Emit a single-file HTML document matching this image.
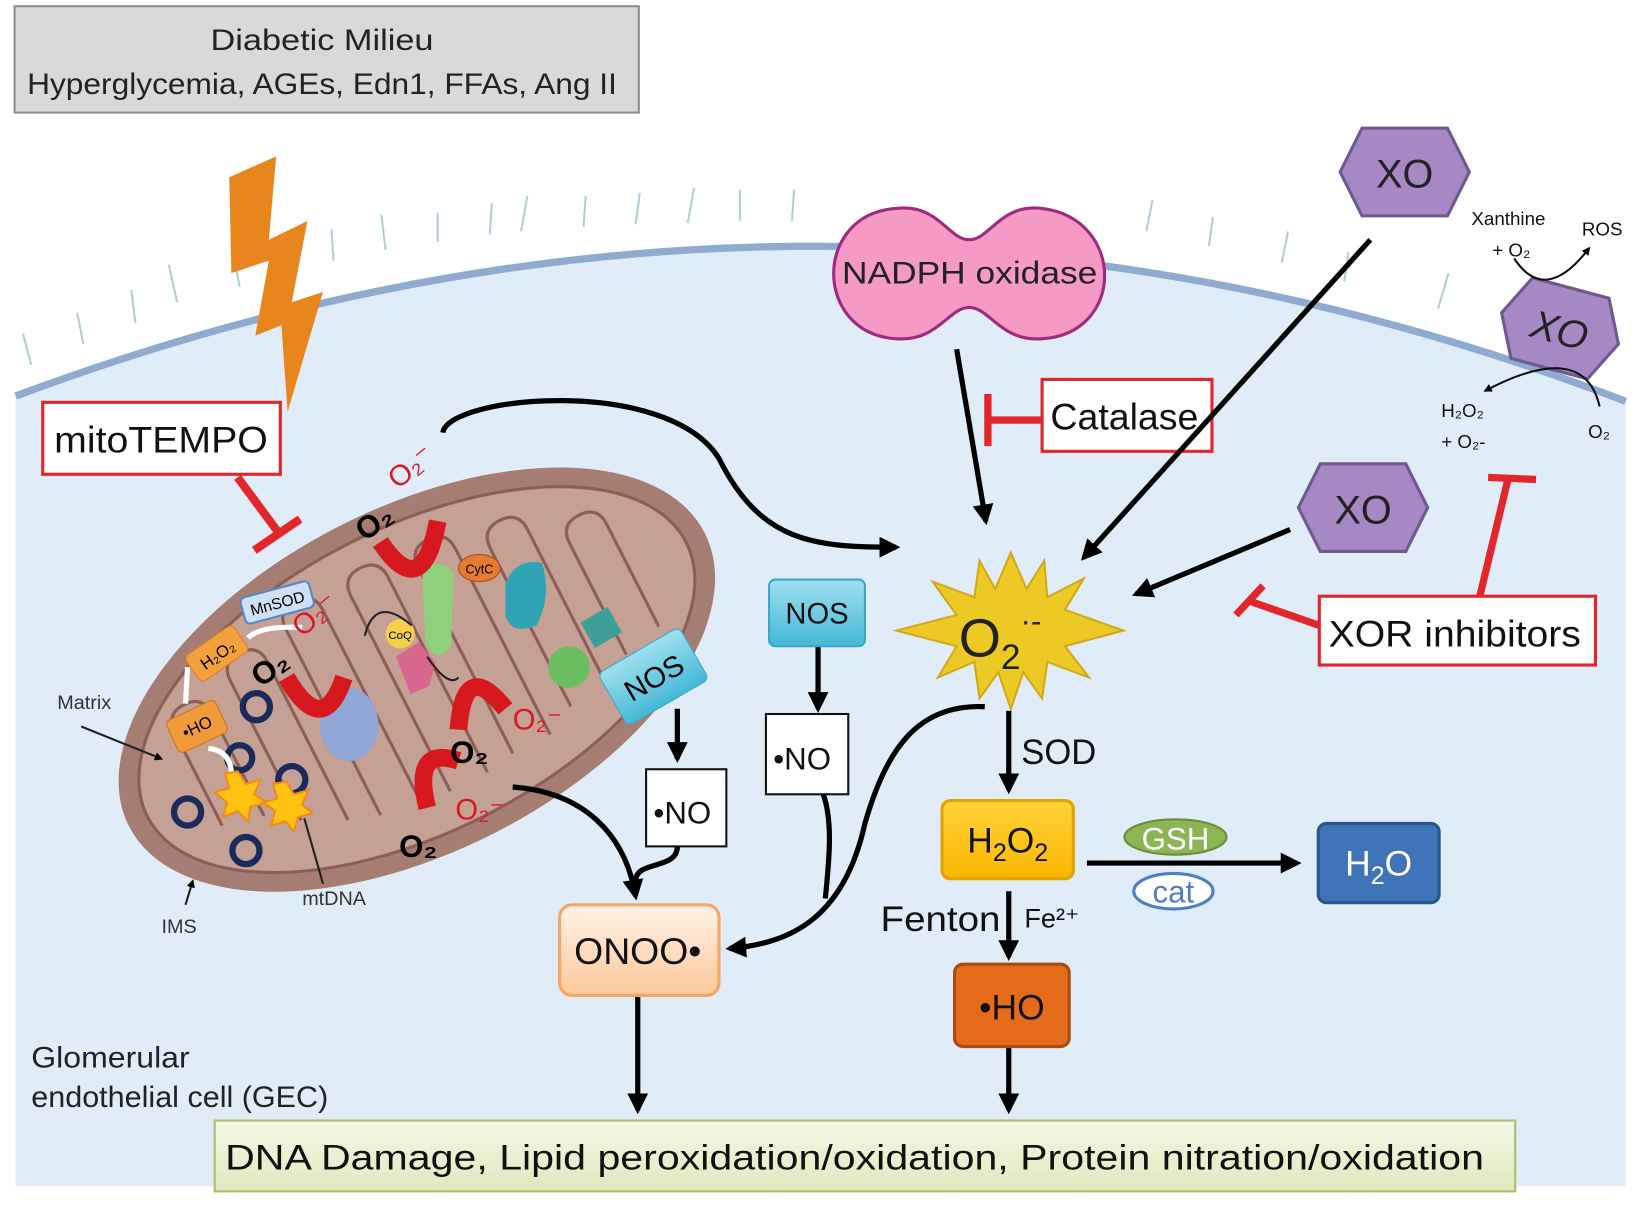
<!DOCTYPE html>
<html><head><meta charset="utf-8"><style>
html,body{margin:0;padding:0;background:#fff}
svg{display:block}
text{font-family:"Liberation Sans",sans-serif}
</style></head><body>
<svg width="1634" height="1206" viewBox="0 0 1568 1157" preserveAspectRatio="none" xmlns="http://www.w3.org/2000/svg">
<defs>
<marker id="ah" viewBox="0 0 10 10" refX="8" refY="5" markerWidth="4" markerHeight="4" orient="auto"><path d="M0,0 L10,5 L0,10 z" fill="#000"/></marker>
<linearGradient id="gOn" x1="0" y1="0" x2="0" y2="1"><stop offset="0" stop-color="#fff2e6"/><stop offset="1" stop-color="#fbc89a"/></linearGradient>
<linearGradient id="gH" x1="0" y1="0" x2="0" y2="1"><stop offset="0" stop-color="#ffd23a"/><stop offset="1" stop-color="#f9b800"/></linearGradient>
<linearGradient id="gB" x1="0" y1="0" x2="0" y2="1"><stop offset="0" stop-color="#f4f8e6"/><stop offset="1" stop-color="#dfe9bd"/></linearGradient>
<linearGradient id="gN" x1="0" y1="0" x2="0" y2="1"><stop offset="0" stop-color="#9fe0ef"/><stop offset="1" stop-color="#45b8d6"/></linearGradient>
</defs>
<rect width="1568" height="1157" fill="#fff"/>
<path d="M15,380 Q790,90 1560,385 L1560,1138 L15,1138 Z" fill="#e0ecf8"/>
<path d="M15,380 Q790,90 1560,385" fill="none" stroke="#8fabcf" stroke-width="7"/>
<g stroke="#9ec3cc" stroke-width="2" fill="none" opacity="0.8">
<path d="M30,350 l-8,-30 M80,330 l-6,-30 M130,310 l-4,-32 M170,290 l-8,-36 M230,275 l-6,-30 M320,250 l-2,-30 M370,240 l-4,-34 M420,232 l0,-28 M470,225 l2,-30 M500,222 l6,-34 M560,218 l2,-30 M610,215 l4,-30 M660,214 l6,-34 M710,212 l0,-30 M760,212 l2,-30 M1100,222 l6,-30 M1160,236 l4,-28 M1230,252 l6,-30 M1290,270 l4,-28 M1380,296 l10,-34"/>
</g>
<rect x="14" y="6" width="599" height="102" fill="#d9d9d9" stroke="#8c8c8c" stroke-width="2"/>
<text x="202" y="48" font-size="28" fill="#222" textLength="214" lengthAdjust="spacingAndGlyphs">Diabetic Milieu</text>
<text x="26" y="90" font-size="28" fill="#222" textLength="566" lengthAdjust="spacingAndGlyphs">Hyperglycemia, AGEs, Edn1, FFAs, Ang II</text>
<polygon points="220,170 265,150 258,230 295,212 280,290 310,280 276,395 270,312 245,322 258,250 222,262" fill="#e8861e"/>
<rect x="41" y="386" width="228" height="69" fill="#fff" stroke="#e3262b" stroke-width="3"/>
<text x="52" y="434" font-size="36" fill="#111" textLength="205" lengthAdjust="spacingAndGlyphs">mitoTEMPO</text>
<path d="M228,458 L268,512" stroke="#e3262b" stroke-width="8"/>
<path d="M244,528 L288,498" stroke="#e3262b" stroke-width="8"/>
<g transform="translate(400,652) rotate(-27)">
<ellipse cx="0" cy="0" rx="310" ry="165" fill="#a67d72"/>
<ellipse cx="0" cy="0" rx="290" ry="146" fill="#c4a095" stroke="#8c5f55" stroke-width="3"/>
<g fill="none" stroke="#8c5f55" stroke-width="3">
<path d="M-230,40 l0,-100 q0,-20 20,-20 q20,0 20,20 l0,110 M-160,70 l0,-150 q0,-20 20,-20 q20,0 20,20 l0,170 M-90,100 l0,-200 q0,-20 20,-20 q20,0 20,20 l0,210 M-20,110 l0,-210 q0,-20 20,-20 q20,0 20,20 l0,210 M50,105 l0,-200 q0,-20 20,-20 q20,0 20,20 l0,200 M120,90 l0,-170 q0,-20 20,-20 q20,0 20,20 l0,170 M190,70 l0,-120 q0,-20 20,-20 q20,0 20,20 l0,110"/>
</g>
</g>
<g fill="none" stroke="#1a2a5a" stroke-width="6">
<circle cx="246" cy="678" r="13"/><circle cx="180" cy="779" r="13"/><circle cx="236" cy="816" r="13"/><circle cx="280" cy="748" r="13"/><circle cx="230" cy="727" r="12"/>
</g>
<polygon points="228,740 236,752 250,748 244,762 256,770 240,774 238,788 228,778 214,784 218,770 206,760 220,756 216,742" fill="#ffc20e" stroke="#f08c1e" stroke-width="2"/>
<polygon points="275,750 282,762 296,758 290,772 300,780 286,784 282,798 274,788 260,792 264,778 252,770 266,766 262,752" fill="#ffc20e" stroke="#f08c1e" stroke-width="2"/>
<rect x="232" y="565" width="68" height="26" rx="5" fill="#cfe1f7" stroke="#5b86c4" stroke-width="2" transform="rotate(-15 266 578)"/>
<text x="266" y="584" font-size="15" text-anchor="middle" transform="rotate(-15 266 578)">MnSOD</text>
<rect x="180" y="612" width="56" height="30" rx="5" fill="#f4a13d" stroke="#d97f1e" transform="rotate(-35 208 627)"/>
<text x="208" y="634" font-size="16" text-anchor="middle" transform="rotate(-35 208 627)">H₂O₂</text>
<rect x="163" y="680" width="52" height="34" rx="5" fill="#f09a3a" stroke="#c77418" transform="rotate(-25 189 697)"/>
<text x="189" y="703" font-size="16" text-anchor="middle" transform="rotate(-25 189 697)">•HO</text>
<path d="M290,602 Q250,600 238,612 M180,640 L178,675 M200,718 Q220,720 222,740" stroke="#fff" stroke-width="5" fill="none"/>
<ellipse cx="335" cy="695" rx="28" ry="35" fill="#8fa6d6"/>
<path d="M380,630 l22,-14 l16,20 l-6,22 l-18,8 z" fill="#d9668c"/>
<path d="M405,545 q20,-10 30,5 l-2,70 q-15,20 -25,-5 z" fill="#8fd07a"/>
<ellipse cx="460" cy="545" rx="20" ry="13" fill="#e77a32" stroke="#a24d12"/>
<text x="460" y="550" font-size="12" text-anchor="middle">CytC</text>
<circle cx="384" cy="608" r="14" fill="#f7d049"/>
<text x="384" y="613" font-size="11" text-anchor="middle">CoQ</text>
<path d="M485,560 q10,-25 35,-20 q10,30 -5,60 q-25,10 -30,-10 z" fill="#2fa4b4"/>
<circle cx="546" cy="640" r="20" fill="#6bbd60"/>
<rect x="562" y="588" width="30" height="28" fill="#3d9f96" transform="rotate(-30 577 602)"/>
<path d="M350,610 q10,-40 45,-10 M410,630 q20,30 30,20" fill="none" stroke="#222" stroke-width="2"/>
<g fill="none" stroke="#d7191f" stroke-width="17">
<path d="M275,650 q35,60 55,0"/>
<path d="M365,520 q40,60 55,-20"/>
<path d="M440,700 q5,-70 45,-20"/>
<path d="M410,775 q-15,-60 30,-45"/>
</g>
<g font-size="30" font-weight="bold">
<text x="350" y="520" transform="rotate(-35 350 520)">O₂</text>
<text x="250" y="660" transform="rotate(-35 250 660)">O₂</text>
<text x="432" y="732">O₂</text>
<text x="383" y="822">O₂</text>
</g>
<g font-size="28" fill="#d7191f">
<text x="382" y="470" transform="rotate(-40 382 470)">O₂⁻</text>
<text x="290" y="612" transform="rotate(-40 290 612)">O₂⁻</text>
<text x="492" y="700">O₂⁻</text>
<text x="437" y="786">O₂⁻</text>
</g>
<text x="55" y="680" font-size="19" fill="#333">Matrix</text>
<path d="M78,697 L155,728" stroke="#222" stroke-width="2" marker-end="url(#ah)"/>
<text x="155" y="895" font-size="19" fill="#333">IMS</text>
<path d="M178,868 L185,845" stroke="#222" stroke-width="2" marker-end="url(#ah)"/>
<text x="290" y="868" font-size="19" fill="#333">mtDNA</text>
<path d="M310,848 L292,785" stroke="#222" stroke-width="2"/>
<rect x="582" y="620" width="90" height="58" rx="6" fill="url(#gN)" stroke="#3aa6c8" transform="rotate(-30 627 649)"/>
<text x="627" y="660" font-size="28" text-anchor="middle" transform="rotate(-30 627 649)">NOS</text>
<path d="M860,200 C900,195 910,230 930,230 C950,230 960,195 1000,200 C1080,210 1080,320 1000,325 C960,328 950,295 930,295 C910,295 900,328 860,325 C780,320 780,205 860,200 Z" fill="#f49ac5" stroke="#a02a82" stroke-width="3"/>
<text x="808" y="272" font-size="30" fill="#222" textLength="245" lengthAdjust="spacingAndGlyphs">NADPH oxidase</text>
<polygon points="1307,123 1389,123 1410,165 1389,207 1307,207 1286,165" fill="#a688c4" stroke="#6e5a8e" stroke-width="3"/>
<text x="1348" y="180" font-size="38" text-anchor="middle" fill="#222">XO</text>
<polygon points="1267,445 1349,445 1370,487 1349,529 1267,529 1246,487" fill="#a688c4" stroke="#6e5a8e" stroke-width="3"/>
<text x="1308" y="502" font-size="38" text-anchor="middle" fill="#222">XO</text>
<g transform="rotate(15 1497 315)">
<polygon points="1459,275 1535,275 1555,315 1535,355 1459,355 1439,315" fill="#a688c4" stroke="#6e5a8e" stroke-width="3"/>
<text x="1497" y="330" font-size="38" text-anchor="middle" fill="#222" font-style="italic">XO</text>
</g>
<text x="1412" y="216" font-size="18" fill="#111">Xanthine</text>
<text x="1432" y="246" font-size="18" fill="#111">+ O₂</text>
<text x="1518" y="226" font-size="18" fill="#111">ROS</text>
<path d="M1453,248 q30,45 72,-10" fill="none" stroke="#111" stroke-width="2" marker-end="url(#ah)"/>
<text x="1383" y="400" font-size="18" fill="#111">H₂O₂</text>
<text x="1383" y="430" font-size="18" fill="#111">+ O₂-</text>
<text x="1524" y="420" font-size="18" fill="#111">O₂</text>
<path d="M1535,390 q-15,-65 -110,-15" fill="none" stroke="#111" stroke-width="2" marker-end="url(#ah)"/>
<rect x="1000" y="364" width="163" height="69" fill="#fff" stroke="#e3262b" stroke-width="3"/>
<text x="1008" y="412" font-size="36" fill="#111" textLength="142" lengthAdjust="spacingAndGlyphs">Catalase</text>
<path d="M1000,403 L948,403" stroke="#e3262b" stroke-width="7"/>
<path d="M948,378 L948,428" stroke="#e3262b" stroke-width="7"/>
<rect x="1266" y="572" width="265" height="66" fill="#fff" stroke="#e3262b" stroke-width="3"/>
<text x="1275" y="620" font-size="36" fill="#111" textLength="242" lengthAdjust="spacingAndGlyphs">XOR inhibitors</text>
<path d="M1266,600 L1200,577" stroke="#e3262b" stroke-width="7"/>
<path d="M1186,590 L1212,562" stroke="#e3262b" stroke-width="7"/>
<path d="M1420,572 L1447,460" stroke="#e3262b" stroke-width="7"/>
<path d="M1428,458 L1474,460" stroke="#e3262b" stroke-width="7"/>
<polygon points="970,530 985,565 1002,538 1005,573 1040,555 1022,585 1078,605 1022,620 1045,650 1005,635 1000,670 982,645 970,680 958,645 940,670 935,635 900,650 918,620 860,605 918,590 895,558 935,573 940,538 955,565" fill="#ecc924" stroke="#d2a91a" stroke-width="2"/>
<text x="920" y="630" font-size="52" fill="#222">O<tspan font-size="34" dy="12">2</tspan><tspan font-size="30" dy="-36">·-</tspan></text>
<g stroke="#000" stroke-width="5" fill="none">
<path d="M918,335 L946,500" marker-end="url(#ah)"/>
<path d="M1315,230 L1040,535" marker-end="url(#ah)"/>
<path d="M1238,508 L1090,570" marker-end="url(#ah)"/>
<path d="M425,415 C430,380 640,360 690,440 C730,520 780,525 860,525" marker-end="url(#ah)"/>
<path d="M945,678 C880,675 850,720 830,790 C810,880 760,905 700,910" marker-end="url(#ah)"/>
<path d="M492,755 C560,760 600,800 610,860" marker-end="url(#ah)"/>
<path d="M650,680 L650,728" marker-end="url(#ah)"/>
<path d="M650,812 C650,835 610,825 610,845"/>
<path d="M785,620 L785,680" marker-end="url(#ah)"/>
<path d="M790,762 C800,790 795,830 792,862"/>
<path d="M968,682 L968,758" marker-end="url(#ah)"/>
<path d="M968,855 L968,918" marker-end="url(#ah)"/>
<path d="M1043,828 L1245,828" marker-end="url(#ah)"/>
<path d="M612,955 L612,1065" marker-end="url(#ah)"/>
<path d="M968,1004 L968,1065" marker-end="url(#ah)"/>
</g>
<rect x="738" y="556" width="92" height="64" rx="6" fill="url(#gN)" stroke="#3aa6c8" stroke-width="2"/>
<text x="784" y="598" font-size="28" text-anchor="middle" fill="#111">NOS</text>
<rect x="620" y="738" width="77" height="74" fill="#fff" stroke="#111" stroke-width="2"/>
<text x="627" y="790" font-size="30" fill="#111">•NO</text>
<rect x="735" y="685" width="79" height="77" fill="#fff" stroke="#111" stroke-width="2"/>
<text x="742" y="738" font-size="30" fill="#111">•NO</text>
<rect x="537" y="868" width="153" height="87" rx="12" fill="url(#gOn)" stroke="#f4a666" stroke-width="3"/>
<text x="551" y="925" font-size="36" fill="#111" textLength="122" lengthAdjust="spacingAndGlyphs">ONOO•</text>
<text x="980" y="733" font-size="34" fill="#111" textLength="72" lengthAdjust="spacingAndGlyphs">SOD</text>
<rect x="904" y="768" width="126" height="75" rx="8" fill="url(#gH)" stroke="#e3a400" stroke-width="3"/>
<text x="967" y="818" font-size="34" text-anchor="middle" fill="#111">H<tspan font-size="24" dy="8">2</tspan><tspan dy="-8">O</tspan><tspan font-size="24" dy="8">2</tspan></text>
<text x="845" y="893" font-size="34" fill="#111" textLength="115" lengthAdjust="spacingAndGlyphs">Fenton</text>
<text x="983" y="890" font-size="26" fill="#111">Fe²⁺</text>
<rect x="916" y="925" width="110" height="79" rx="8" fill="#e56b1a" stroke="#a84c10" stroke-width="3"/>
<text x="971" y="978" font-size="34" text-anchor="middle" fill="#111">•HO</text>
<ellipse cx="1128" cy="803" rx="49" ry="17" fill="#8db554" stroke="#6a8f3a" stroke-width="2"/>
<text x="1128" y="815" font-size="30" text-anchor="middle" fill="#fff">GSH</text>
<ellipse cx="1126" cy="855" rx="38" ry="17" fill="#fff" stroke="#4d7fc1" stroke-width="3"/>
<text x="1126" y="866" font-size="30" text-anchor="middle" fill="#4d7fc1">cat</text>
<rect x="1265" y="790" width="116" height="76" rx="8" fill="#3f74b8" stroke="#2a568e" stroke-width="3"/>
<text x="1323" y="840" font-size="34" text-anchor="middle" fill="#fff">H<tspan font-size="24" dy="8">2</tspan><tspan dy="-8">O</tspan></text>
<text x="30" y="1024" font-size="28" fill="#222" textLength="152" lengthAdjust="spacingAndGlyphs">Glomerular</text>
<text x="30" y="1062" font-size="28" fill="#222" textLength="285" lengthAdjust="spacingAndGlyphs">endothelial cell (GEC)</text>
<rect x="206" y="1075" width="1248" height="68" fill="url(#gB)" stroke="#a9c06a" stroke-width="2"/>
<text x="216" y="1122" font-size="34" fill="#111" textLength="1208" lengthAdjust="spacingAndGlyphs">DNA Damage, Lipid peroxidation/oxidation, Protein nitration/oxidation</text>
</svg>
</body></html>
